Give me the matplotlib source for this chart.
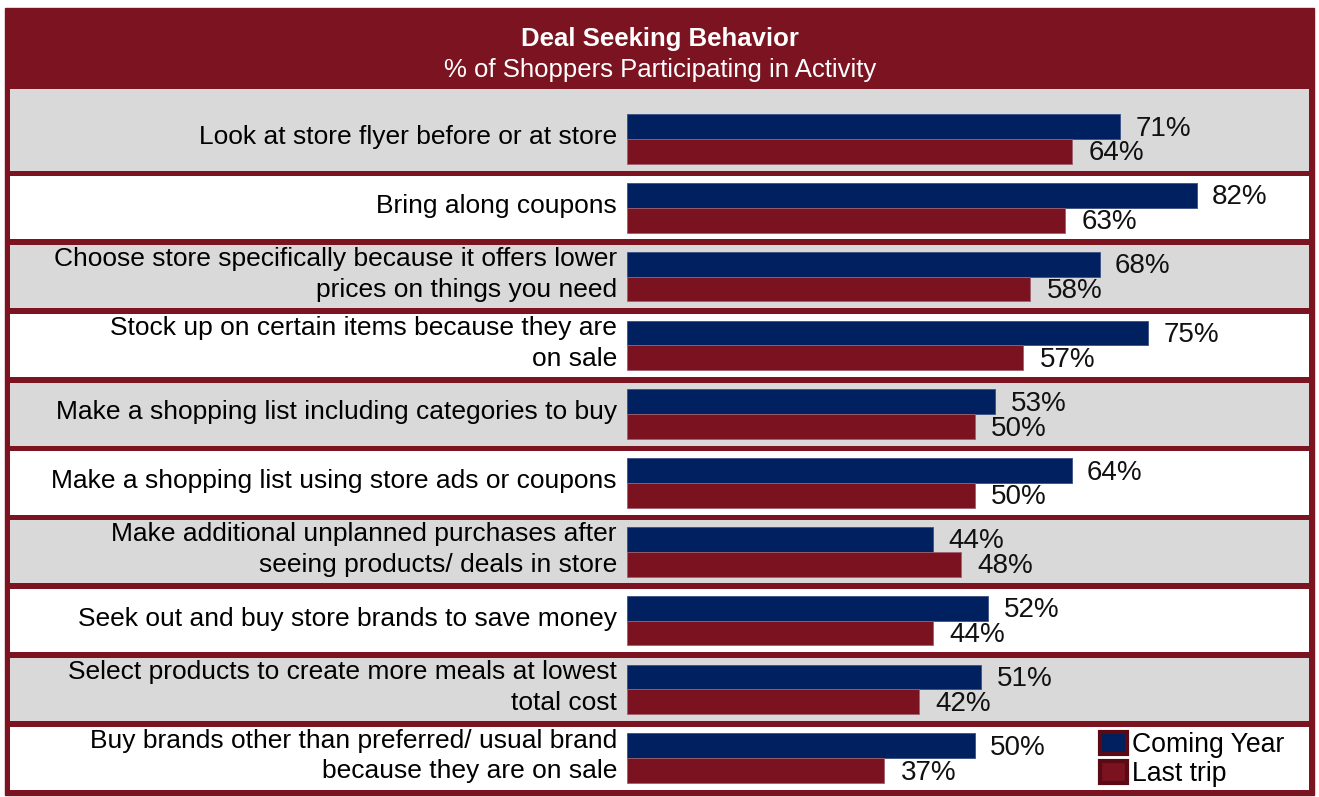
import matplotlib
matplotlib.use("Agg")
import matplotlib.pyplot as plt
from matplotlib.patches import Rectangle

plt.rcParams['font.family'] = ['Liberation Sans', 'DejaVu Sans']

# data
activities = [
    "Look at store flyer before or at store",
    "Bring along coupons",
    "Choose store specifically because it offers lower\nprices on things you need",
    "Stock up on certain items because they are\non sale",
    "Make a shopping list including categories to buy",
    "Make a shopping list using store ads or coupons",
    "Make additional unplanned purchases after\nseeing products/ deals in store",
    "Seek out and buy store brands to save money",
    "Select products to create more meals at lowest\ntotal cost",
    "Buy brands other than preferred/ usual brand\nbecause they are on sale",
]
coming_year = [71, 82, 68, 75, 53, 64, 44, 52, 51, 50]
last_trip = [64, 63, 58, 57, 50, 50, 48, 44, 42, 37]
series_names = ["Coming Year", "Last trip"]

BLUE = "#002060"
RED = "#7A1220"
FRAME = "#7B1420"
GREY = "#D9D9D9"

W, H = 1319, 797
fig = plt.figure(figsize=(W / 100, H / 100), dpi=100)
fig.patch.set_facecolor("white")

# dark red frame + header
fig.patches.append(Rectangle((5 / W, 2 / H), 1309 / W, 787 / H,
                             transform=fig.transFigure, color=FRAME, zorder=-10))
fig.text(660 / W, 1 - 39 / H, "Deal Seeking Behavior", color="white",
         fontsize=18.5, fontweight="bold", ha="center", va="center")
fig.text(660 / W, 1 - 70 / H, "% of Shoppers Participating in Activity",
         color="white", fontsize=18.5, ha="center", va="center")

ax = fig.add_axes([10 / W, 7 / H, 1299 / W, 701 / H])
ax.set_facecolor(FRAME)
px = 6.95  # pixels per percent
ax.set_xlim(-(627 - 10) / px, (1309 - 627) / px)
row_h = 68.8
ax.set_ylim((790 - 139) / row_h, -(139 - 89) / row_h)
for s in ax.spines.values():
    s.set_visible(False)
ax.set_xticks([])
ax.set_yticks([])

n = len(activities)
gap = 0.08
ybot, ytop = ax.get_ylim()
for i in range(n):
    top = ytop if i == 0 else i - 0.5 + gap / 2
    bot = ybot if i == n - 1 else i + 0.5 - gap / 2
    ax.axhspan(top, bot, xmin=0, xmax=1, color=GREY if i % 2 == 0 else "white",
               zorder=0, lw=0)

ys = list(range(n))
bh = 0.36
ax.barh([y - bh / 2 for y in ys], coming_year, height=bh, color=BLUE,
        edgecolor="#3A4F85", linewidth=0.6, zorder=2)
ax.barh([y + bh / 2 for y in ys], last_trip, height=bh, color=RED,
        edgecolor="#A06070", linewidth=0.6, zorder=2)

for y, v in zip(ys, coming_year):
    ax.text(v + 2.2, y - bh / 2 + 0.03, f"{v}%", fontsize=20, ha="left",
            va="center", color="#111111", zorder=3)
for y, v in zip(ys, last_trip):
    ax.text(v + 2.4, y + bh / 2 + 0.03, f"{v}%", fontsize=20, ha="left",
            va="center", color="#111111", zorder=3)

for y, lab in zip(ys, activities):
    ax.text(-1.45, y - 0.03, lab, fontsize=19, ha="right", va="center",
            color="black", linespacing=1.35, zorder=3)

h1 = Rectangle((0, 0), 1, 1, facecolor=BLUE, edgecolor="#5A0A14", linewidth=3)
h2 = Rectangle((0, 0), 1, 1, facecolor=RED, edgecolor="#5A0A14", linewidth=3)
ax.legend([h1, h2], series_names, loc="lower right",
          bbox_to_anchor=(0.983, 0.0), frameon=False, fontsize=19.2,
          handlelength=1.0, handleheight=0.9, handletextpad=0.2,
          labelspacing=0.1, borderpad=0.1, borderaxespad=0.0)

fig.savefig("out.png", dpi=100, facecolor="white")
